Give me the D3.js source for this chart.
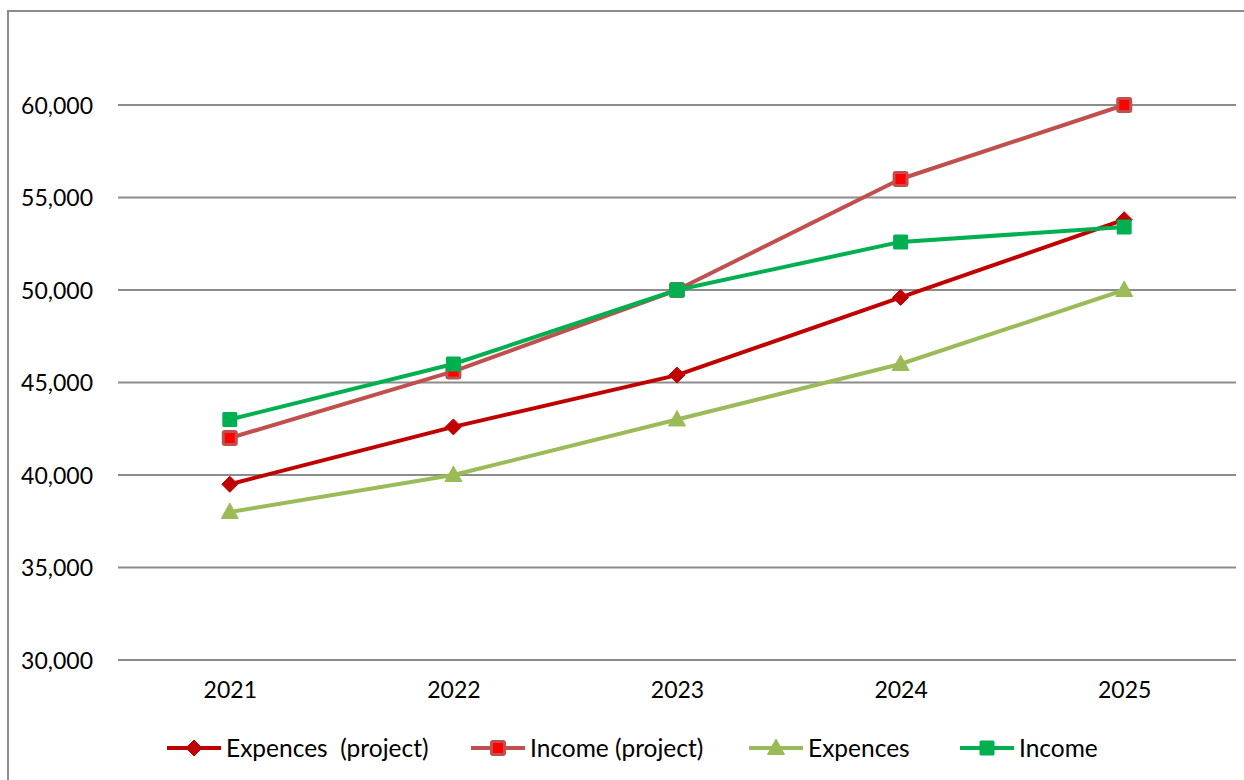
<!DOCTYPE html>
<html><head><meta charset="utf-8">
<script src="https://cdn.jsdelivr.net/npm/d3@7/dist/d3.min.js"></script>
<style>html,body{margin:0;padding:0;background:#fff;}svg{display:block;}</style>
</head><body>
<svg id="chart" width="1244" height="780"></svg>
<script>
const years = ["2021","2022","2023","2024","2025"];
const expencesProject = [39500, 42600, 45400, 49600, 53800];
const incomeProject   = [42000, 45600, 50000, 56000, 60000];
const expences        = [38000, 40000, 43000, 46000, 50000];
const income          = [43000, 46000, 50000, 52600, 53400];
const yTicks = [30000, 35000, 40000, 45000, 50000, 55000, 60000];
const seriesNames = ["Expences  (project)", "Income (project)", "Expences", "Income"];

const series = [
  {name: seriesNames[0], values: expencesProject, line: "#C00000", fill: "#C00000", stroke: "#C00000", marker: "diamond"},
  {name: seriesNames[1], values: incomeProject, line: "#C0504D", fill: "#FF0000", stroke: "#C0504D", marker: "square"},
  {name: seriesNames[2], values: expences, line: "#9BBB59", fill: "#9BBB59", stroke: "#9BBB59", marker: "triangle"},
  {name: seriesNames[3], values: income, line: "#00B050", fill: "#00B050", stroke: "#00B050", marker: "square"}
];

const svg = d3.select("#chart");
const font = "Lato, 'Open Sans', sans-serif";

// outer border
svg.append("rect").attr("x", 8).attr("y", 11).attr("width", 1260).attr("height", 800)
  .attr("fill", "none").attr("stroke", "#8c8c8c").attr("stroke-width", 2);

const x = d3.scalePoint().domain(years).range([118, 1236]).padding(0.5);
const y = d3.scaleLinear().domain([30000, 60000]).range([660, 105]);

// gridlines
svg.append("g").selectAll("line").data(yTicks).join("line")
  .attr("x1", 118).attr("x2", 1236)
  .attr("y1", d => y(d)).attr("y2", d => y(d))
  .attr("stroke", "#8c8c8c").attr("stroke-width", 2);

// y axis labels
const yAxis = d3.axisLeft(y).tickValues(yTicks).tickFormat(d3.format(",")).tickSize(0).tickPadding(0);
const ya = svg.append("g").attr("transform", "translate(93,0)").call(yAxis);
ya.select(".domain").remove();
ya.selectAll("text").attr("font-family", font).attr("font-size", 23).attr("fill", "#000").attr("dy", "0.35em");

// x axis labels
const xAxis = d3.axisBottom(x).tickSize(0).tickPadding(0);
const xa = svg.append("g").attr("transform", "translate(0,682)").call(xAxis);
xa.select(".domain").remove();
xa.selectAll("text").attr("font-family", font).attr("font-size", 23).attr("fill", "#000").attr("dy", "0.71em");

function markerPath(type) {
  if (type === "diamond") return "M0,-8L8,0L0,8L-8,0Z";
  if (type === "triangle") return "M0,-9L8.5,6.5L-8.5,6.5Z";
  return null;
}
function drawMarker(g, s, cx, cy) {
  if (s.marker === "square") {
    if (s.fill !== s.stroke) {
      g.append("rect").attr("x", cx - 6.5).attr("y", cy - 6.5).attr("width", 13).attr("height", 13)
        .attr("rx", 1.5).attr("fill", s.fill).attr("stroke", s.stroke).attr("stroke-width", 3);
    } else {
      g.append("rect").attr("x", cx - 7.5).attr("y", cy - 7.5).attr("width", 15).attr("height", 15)
        .attr("rx", 1.5).attr("fill", s.fill);
    }
  } else {
    g.append("path").attr("d", markerPath(s.marker)).attr("transform", `translate(${cx},${cy})`)
      .attr("fill", s.fill).attr("stroke", s.stroke).attr("stroke-width", 1).attr("stroke-linejoin", "round");
  }
}

const line = d3.line().x((d, i) => x(years[i])).y(d => y(d));
series.forEach(s => {
  const g = svg.append("g");
  g.append("path").datum(s.values).attr("d", line).attr("fill", "none")
    .attr("stroke", s.line).attr("stroke-width", 4).attr("stroke-linejoin", "round");
  s.values.forEach((v, i) => drawMarker(g, s, x(years[i]), y(v)));
});

// legend
const legendX = [167, 471, 749, 960];
const legendY = 748;
series.forEach((s, i) => {
  const g = svg.append("g");
  const lx = legendX[i];
  g.append("line").attr("x1", lx).attr("x2", lx + 54).attr("y1", legendY).attr("y2", legendY)
    .attr("stroke", s.line).attr("stroke-width", 4);
  drawMarker(g, s, lx + 27, legendY);
  g.append("text").attr("x", lx + 59).attr("y", legendY).attr("dy", "0.35em")
    .attr("font-family", font).attr("font-size", 24.5).attr("fill", "#000")
    .attr("xml:space", "preserve").style("white-space", "pre").text(s.name);
});
</script>
</body></html>
